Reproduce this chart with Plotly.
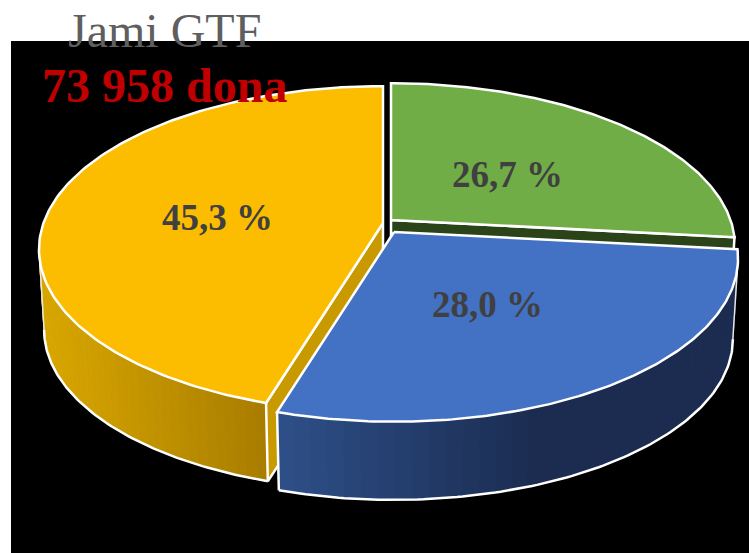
import numpy as np
import plotly.graph_objects as go

# Data
shares = [26.7, 28.0, 45.3]
share_labels = ["26,7 %", "28,0 %", "45,3 %"]
title_text = "Jami GTF"
total_text = "73 958 dona"

# Styles / layout of the 3D projection
top_colors = ["#70AD47", "#4371C3", "#FCBD00"]
cut_colors = ["#2B4318", None, "#C99A00"]
side_from = [None, (46, 80, 137), (218, 168, 0)]
side_to = [None, (27, 44, 80), (168, 124, 0)]
side_x = [None, (277, 540), (40, 270)]
apexes = [(391, 220), (394, 232), (383, 223)]
label_pos = [(507, 174), (487, 304), (217, 217)]
RX, RY, K = 339.5, 159.0, 0.162
DEPTH, BOTTOM_SCALE = 81.0, 0.985
TANGENT_OFFSET = np.degrees(np.arccos(-K))  # silhouette of the disc


def project(deg, apex, bottom=False):
    t = np.radians(np.asarray(deg, dtype=float))
    x, y = np.sin(t), np.cos(t)
    w = 1 + K * y
    s = BOTTOM_SCALE if bottom else 1.0
    px = apex[0] + s * RX * x / w
    py = apex[1] - s * RY * y / w + (DEPTH if bottom else 0)
    return px, py


def poly(xs, ys, color=None, line=None, width=2):
    return go.Scatter(
        x=list(xs), y=list(ys), mode="lines",
        fill="toself" if color else "none",
        fillcolor=color,
        line=dict(color=line or "rgba(0,0,0,0)", width=width if line else 0),
        hoverinfo="skip", showlegend=False,
    )


# Angle spans from the shares
edges = np.concatenate([[0], np.cumsum(shares)]) * 3.6
spans = [(edges[i], edges[i + 1]) for i in range(len(shares))]

fig = go.Figure()


def add_slice(i):
    a0, a1 = spans[i]
    apex = apexes[i]
    bot = (apex[0], apex[1] + DEPTH)
    th = np.linspace(a0, a1, 161)
    tx, ty = project(th, apex)
    bx, by = project(th, apex, bottom=True)
    # Outer side with a stepped horizontal gradient
    if side_from[i]:
        c0, c1 = np.array(side_from[i]), np.array(side_to[i])
        xa, xb = side_x[i]
        lo = max(a0, TANGENT_OFFSET) if i == 1 else a0
        hi = min(a1, 360 - TANGENT_OFFSET) if i == 2 else a1
        vis = np.linspace(lo, hi, 121)
        step = 3
        for k in range(0, len(vis) - 1, step):
            seg = vis[k:k + step + 1]
            sx, sy = project(seg, apex)
            ux, uy = project(seg, apex, bottom=True)
            f = np.clip((sx.mean() - xa) / (xb - xa), 0, 1)
            c = c0 + (c1 - c0) * f
            col = "rgb(%d,%d,%d)" % tuple(c)
            fig.add_trace(poly(np.r_[sx, ux[::-1], sx[0]], np.r_[sy, uy[::-1], sy[0]], col, col, 1))
        # Outlines of the side
        ax, ay = project(vis, apex, bottom=True)
        fig.add_trace(poly(ax, ay, None, "white", 2.5))
        tan = vis[0] if i == 1 else vis[-1]
        p, q = project(tan, apex)
        r, s = project(tan, apex, bottom=True)
        fig.add_trace(poly([p, r], [q, s], None, "#E6E6E6", 1.5))
    # Cut face
    if cut_colors[i]:
        j = -1 if i == 0 else 0
        fig.add_trace(poly([apex[0], tx[j], bx[j], bot[0], apex[0]],
                           [apex[1], ty[j], by[j], bot[1], apex[1]], cut_colors[i], "white", 2.5))
    # Front vertical edge of the blue slice
    if i == 1:
        fig.add_trace(poly([tx[-1], bx[-1]], [ty[-1], by[-1]], None, "white", 2.5))
    # Top face
    fig.add_trace(poly(np.r_[apex[0], tx, apex[0]], np.r_[apex[1], ty, apex[1]], top_colors[i], "white", 2.5))


for i in (2, 0, 1):
    add_slice(i)

annotations = [
    dict(x=x, y=y, text=f"<b>{t}</b>", showarrow=False, xanchor="center", yanchor="middle",
         font=dict(family="Liberation Serif", size=37, color="#404040"))
    for (x, y), t in zip(label_pos, share_labels)
]
annotations += [
    dict(xref="x", yref="paper", x=164, y=1.02, text=title_text, showarrow=False,
         xanchor="center", yanchor="middle",
         font=dict(family="Liberation Serif", size=48, color="#5F5F5F")),
    dict(x=164, y=85, text=f"<b>{total_text}</b>", showarrow=False, xanchor="center", yanchor="middle",
         font=dict(family="Liberation Serif", size=48, color="#C00000")),
]

fig.update_layout(
    width=749, height=553,
    margin=dict(l=11, r=0, t=41, b=0),
    paper_bgcolor="white", plot_bgcolor="black",
    xaxis=dict(range=[11, 749], visible=False, fixedrange=True),
    yaxis=dict(range=[553, 41], visible=False, fixedrange=True),
    showlegend=False,
    annotations=annotations,
)
fig.write_html(
    "out.html",
    config={"displayModeBar": False},
    post_script="document.body.style.margin='0';document.body.style.overflow='hidden';",
)
